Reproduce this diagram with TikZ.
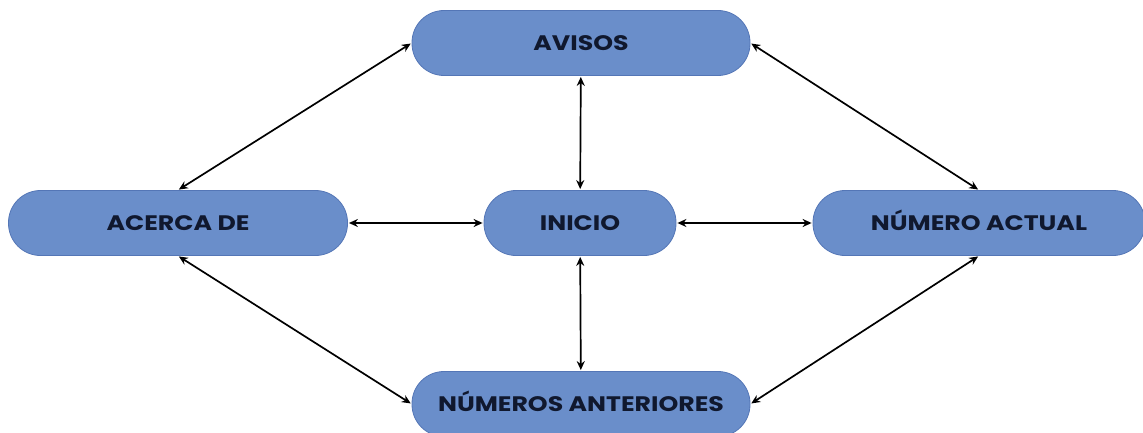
\documentclass[tikz,border=0pt]{standalone}
\usepackage{fontspec}
\setmainfont{Poppins}[FakeStretch=1.2]
\usetikzlibrary{arrows.meta}
\definecolor{navblue}{RGB}{106,142,202}
\definecolor{navedge}{RGB}{84,118,182}
\definecolor{navtext}{RGB}{16,24,46}

\begin{document}
\begin{tikzpicture}[
    x=1pt,y=1pt,
    font=\fontsize{21}{25}\selectfont\bfseries,
    page/.style={draw=navedge,line width=0.8pt,fill=navblue,text=navtext,rounded corners=32pt,minimum height=65pt,text height=15pt,text depth=0pt,align=center},
    link/.style={{Stealth[length=9pt,width=8pt]}-{Stealth[length=9pt,width=8pt]},line width=1.7pt,shorten <=1pt,shorten >=1pt}
  ]
    \useasboundingbox (0,0) rectangle (1143,432);
    \node[page,minimum width=338pt] (avisos) at (581,389) {AVISOS};
    \node[page,minimum width=339pt] (acerca) at (178,209) {ACERCA DE};
    \node[page,minimum width=192pt] (inicio) at (580,209) {INICIO};
    \node[page,minimum width=332pt] (actual) at (979,209) {NÚMERO ACTUAL};
    \node[page,minimum width=338pt] (anteriores) at (581,28) {NÚMEROS ANTERIORES};
    \draw[link] (avisos.west) -- (acerca.north);
    \draw[link] (avisos.east) -- (actual.north);
    \draw[link] (anteriores.west) -- (acerca.south);
    \draw[link] (anteriores.east) -- (actual.south);
    \draw[link] (avisos) -- (inicio);
    \draw[link] (inicio) -- (anteriores);
    \draw[link] (acerca) -- (inicio);
    \draw[link] (inicio) -- (actual);
  \end{tikzpicture}
\end{document}
